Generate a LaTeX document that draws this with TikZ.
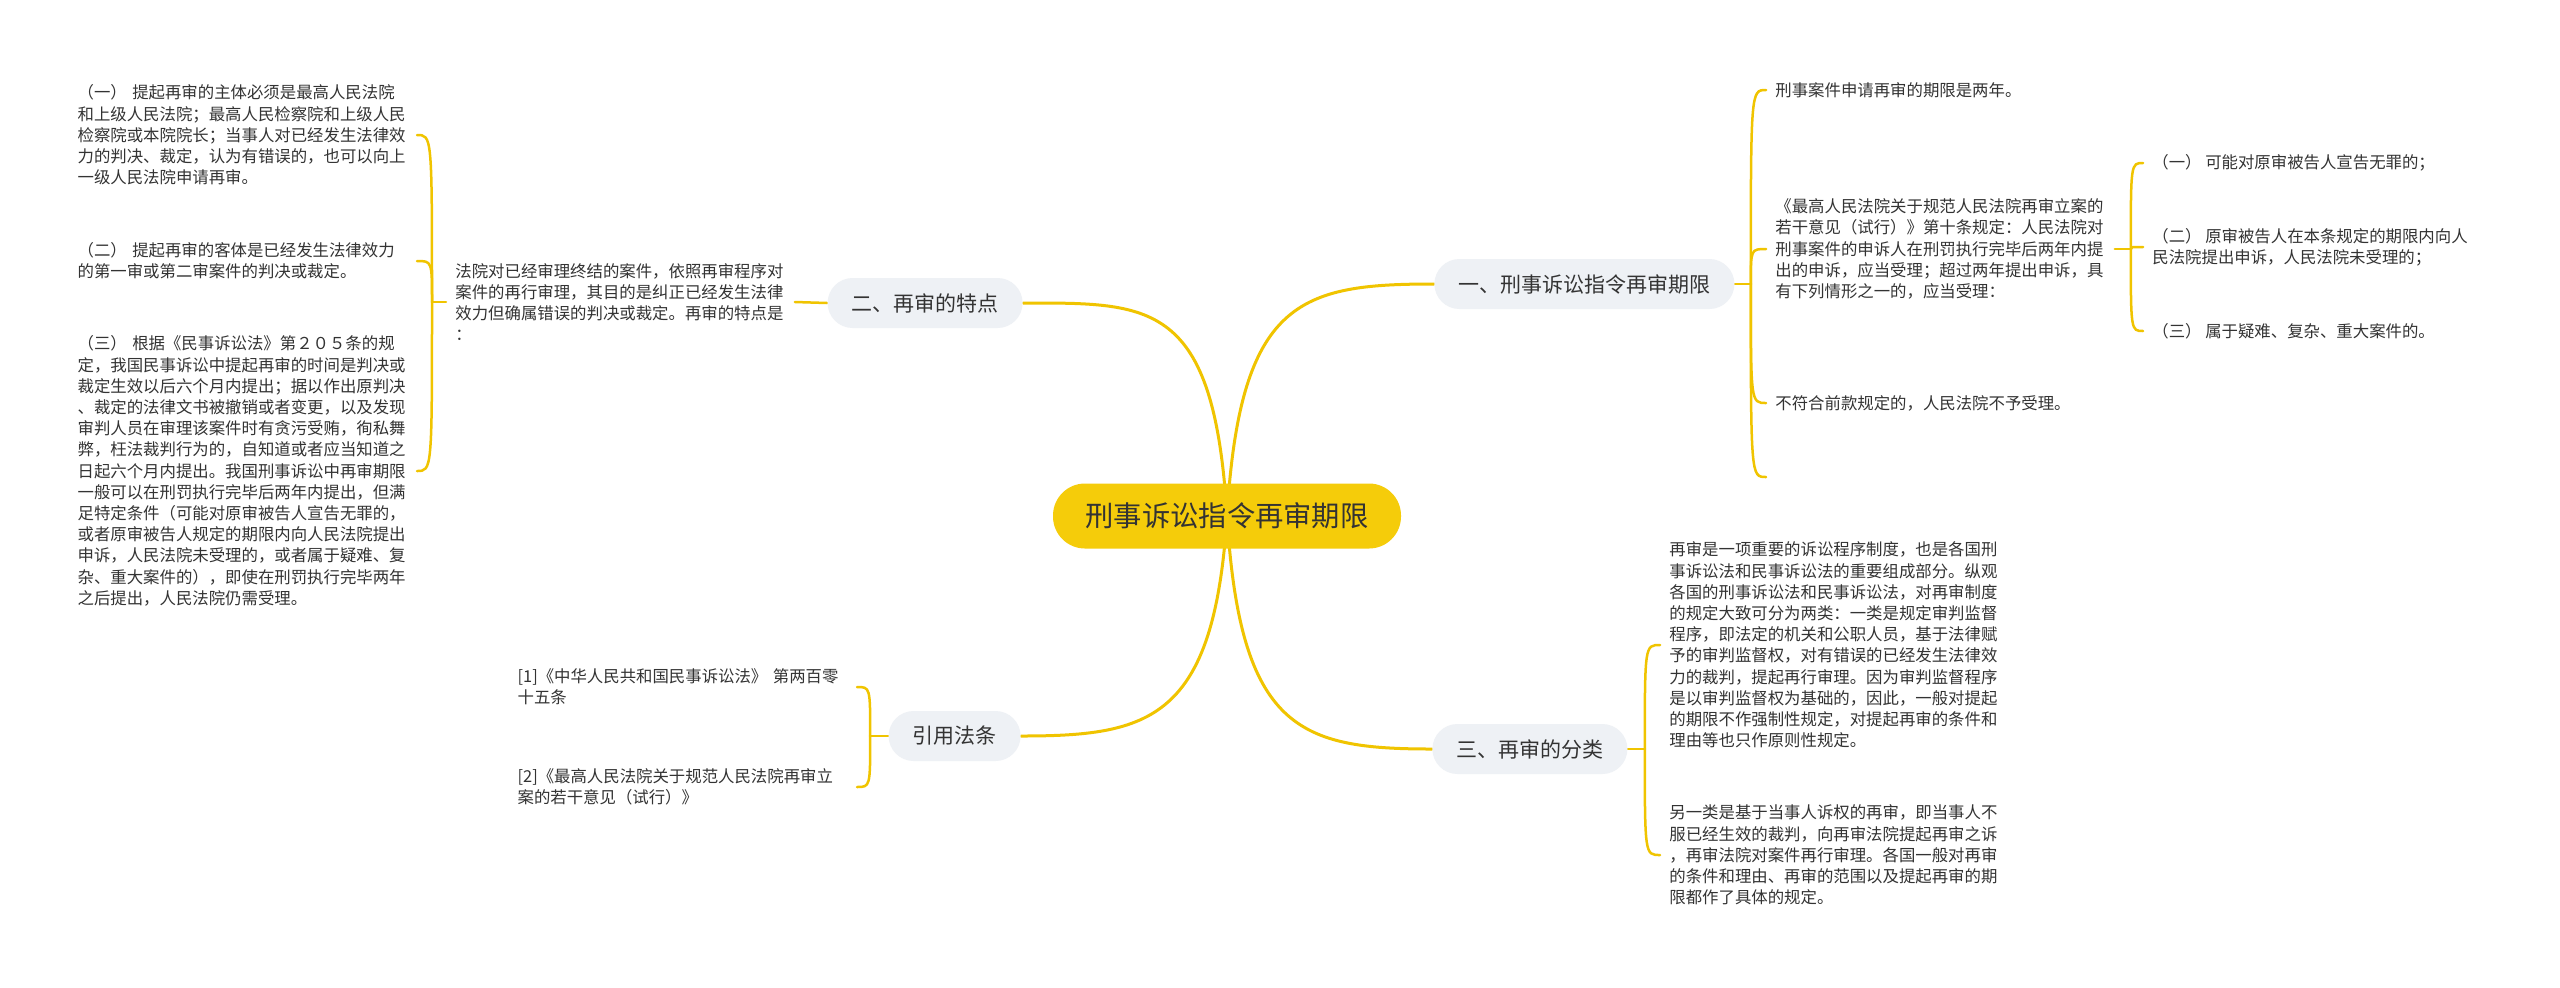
\documentclass[tikz,border=0pt]{standalone}
\usepackage{fontspec}
\setmainfont{Noto Sans CJK SC}
\usetikzlibrary{backgrounds}
\definecolor{lineY}{HTML}{F0C400}
\definecolor{rootF}{HTML}{F5CC0A}
\definecolor{branchF}{HTML}{EEF1F5}
\definecolor{txt}{HTML}{333333}
\newcommand{\leaffont}{\fontsize{8.2pt}{10.6pt}\selectfont}
\begin{document}
\begin{tikzpicture}[x=0.5pt,y=-0.5pt,
  rootnode/.style={fill=rootF, rounded corners=16pt, minimum height=32.5pt, minimum width=174pt, inner sep=0pt, text=txt, font=\fontsize{14.15pt}{17pt}\selectfont},
  branchnode/.style={fill=branchF, rounded corners=12.5pt, minimum height=25pt, inner xsep=12pt, inner ysep=0pt, text=txt, font=\fontsize{10.5pt}{13pt}\selectfont},
  leafbox/.style={inner xsep=4.5pt, inner ysep=0pt, align=left, text width=165pt, text=txt, font=\leaffont},
  leafline/.style={inner xsep=4.5pt, inner ysep=0pt, align=left, text=txt, font=\leaffont},
  mainline/.style={draw=lineY, line width=1.5pt, line cap=round},
  subline/.style={draw=lineY, line width=1.25pt, line cap=round}]
\useasboundingbox (0,0) rectangle (2560,987);

% root and branches
\node[rootnode] (root) at (1227,516) {刑事诉讼指令再审期限};
\node[branchnode, anchor=west] (b1) at (1434,284) {一、刑事诉讼指令再审期限};
\node[branchnode, anchor=east] (b2) at (1023,303) {二、再审的特点};
\node[branchnode, anchor=west] (b3) at (1432,749) {三、再审的分类};
\node[branchnode, anchor=east] (b4) at (1021,736) {引用法条};

% branch 2
\node[leafbox, anchor=west] (p2) at (446,302) {法院对已经审理终结的案件，依照再审程序对\\案件的再行审理，其目的是纠正已经发生法律\\效力但确属错误的判决或裁定。再审的特点是\\：};
\node[leafbox, anchor=east] (l1) at (417,135) {（一） 提起再审的主体必须是最高人民法院\\和上级人民法院；最高人民检察院和上级人民\\检察院或本院院长；当事人对已经发生法律效\\力的判决、裁定，认为有错误的，也可以向上\\一级人民法院申请再审。};
\node[leafbox, anchor=east] (l2) at (417,261) {（二） 提起再审的客体是已经发生法律效力\\的第一审或第二审案件的判决或裁定。};
\node[leafbox, anchor=east] (l3) at (417,471) {（三） 根据《民事诉讼法》第２０５条的规\\定，我国民事诉讼中提起再审的时间是判决或\\裁定生效以后六个月内提出；据以作出原判决\\、裁定的法律文书被撤销或者变更，以及发现\\审判人员在审理该案件时有贪污受贿，徇私舞\\弊，枉法裁判行为的，自知道或者应当知道之\\日起六个月内提出。我国刑事诉讼中再审期限\\一般可以在刑罚执行完毕后两年内提出，但满\\足特定条件（可能对原审被告人宣告无罪的，\\或者原审被告人规定的期限内向人民法院提出\\申诉，人民法院未受理的，或者属于疑难、复\\杂、重大案件的），即使在刑罚执行完毕两年\\之后提出，人民法院仍需受理。};

% branch 1
\node[leafline, anchor=west] (r1) at (1766,90) {刑事案件申请再审的期限是两年。};
\node[leafbox, anchor=west] (r2) at (1766,249) {《最高人民法院关于规范人民法院再审立案的\\若干意见（试行）》第十条规定：人民法院对\\刑事案件的申诉人在刑罚执行完毕后两年内提\\出的申诉，应当受理；超过两年提出申诉，具\\有下列情形之一的，应当受理：};
\node[leafline, anchor=west] (r3) at (1766,403) {不符合前款规定的，人民法院不予受理。};
\coordinate (r4) at (1766,477);
\node[leafline, anchor=west] (s1) at (2143,163) {（一） 可能对原审被告人宣告无罪的；};
\node[leafline, anchor=west] (s2) at (2143,247) {（二） 原审被告人在本条规定的期限内向人\\民法院提出申诉，人民法院未受理的；};
\node[leafline, anchor=west] (s3) at (2143,331) {（三） 属于疑难、复杂、重大案件的。};

% branch 3
\node[leafbox, anchor=west] (t1) at (1660,645) {再审是一项重要的诉讼程序制度，也是各国刑\\事诉讼法和民事诉讼法的重要组成部分。纵观\\各国的刑事诉讼法和民事诉讼法，对再审制度\\的规定大致可分为两类：一类是规定审判监督\\程序，即法定的机关和公职人员，基于法律赋\\予的审判监督权，对有错误的已经发生法律效\\力的裁判，提起再行审理。因为审判监督程序\\是以审判监督权为基础的，因此，一般对提起\\的期限不作强制性规定，对提起再审的条件和\\理由等也只作原则性规定。};
\node[leafbox, anchor=west] (t2) at (1660,855) {另一类是基于当事人诉权的再审，即当事人不\\服已经生效的裁判，向再审法院提起再审之诉\\，再审法院对案件再行审理。各国一般对再审\\的条件和理由、再审的范围以及提起再审的期\\限都作了具体的规定。};

% branch 4
\node[leafbox, anchor=east] (q1) at (857,687) {[1]《中华人民共和国民事诉讼法》 第两百零\\十五条};
\node[leafbox, anchor=east] (q2) at (857,787) {[2]《最高人民法院关于规范人民法院再审立\\案的若干意见（试行）》};

% junctions
\coordinate (j1) at ([xshift=8pt]b1.east);
\coordinate (j12) at ([xshift=8pt]r2.east);
\coordinate (j2) at ([xshift=-7pt]p2.west);
\coordinate (j3) at ([xshift=8.5pt]b3.east);
\coordinate (j4) at ([xshift=-9pt]b4.west);

\begin{scope}[on background layer]
  \fill[white] (0,0) rectangle (2560,987);
  \draw[mainline] (root.center) .. controls +(13,-216) and +(-134,0) .. (b1.west);
  \draw[mainline] (root.center) .. controls +(-13,-216) and +(128,0) .. (b2.east);
  \draw[mainline] (root.center) .. controls +(13,214) and +(-132,0) .. (b3.west);
  \draw[mainline] (root.center) .. controls +(-13,204) and +(129,0) .. (b4.east);

  \draw[subline] (b2.west) -- (p2.east);
  \draw[subline] (p2.west) -- (j2);
  \foreach \n in {l1,l2,l3} \draw[subline] (j2) .. controls (j2 |- \n.east) .. (\n.east);

  \draw[subline] (b1.east) -- (j1);
  \foreach \n in {r1,r2,r3} \draw[subline] (j1) .. controls (j1 |- \n.west) .. (\n.west);
  \draw[subline] (j1) .. controls (j1 |- r4) .. (r4);
  \draw[subline] (r2.east) -- (j12);
  \foreach \n in {s1,s2,s3} \draw[subline] (j12) .. controls (j12 |- \n.west) .. (\n.west);

  \draw[subline] (b3.east) -- (j3);
  \foreach \n in {t1,t2} \draw[subline] (j3) .. controls (j3 |- \n.west) .. (\n.west);

  \draw[subline] (b4.west) -- (j4);
  \foreach \n in {q1,q2} \draw[subline] (j4) .. controls (j4 |- \n.east) .. (\n.east);
\end{scope}
\end{tikzpicture}
\end{document}
